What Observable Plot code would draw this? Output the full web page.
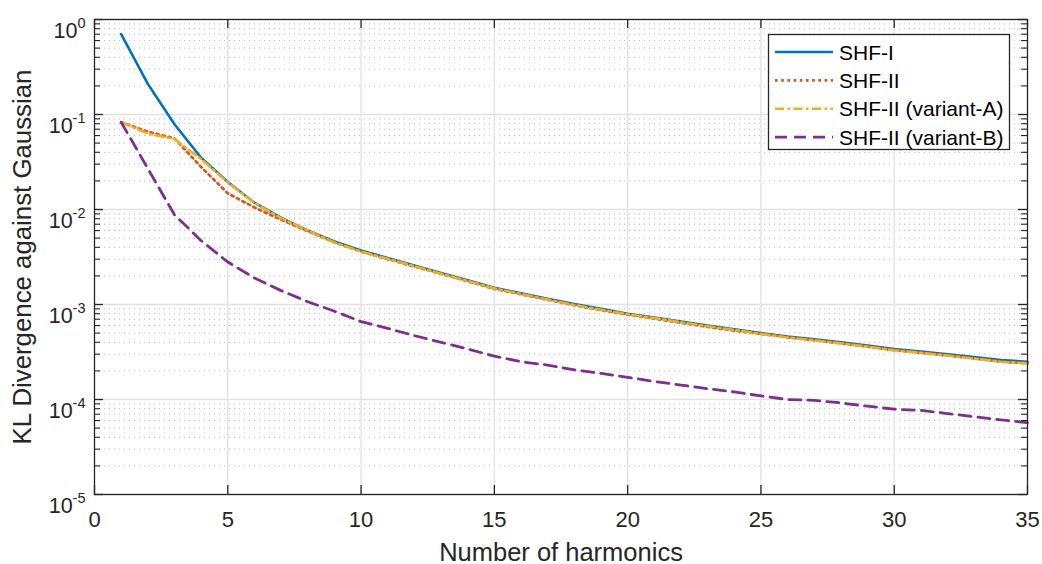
<!DOCTYPE html>
<html><head><meta charset="utf-8">
<script src="https://cdn.jsdelivr.net/npm/d3@7"></script>
<script src="https://cdn.jsdelivr.net/npm/@observablehq/plot@0.6"></script>
<style>
body{margin:0;background:#fff;}
#wrap{position:relative;width:1042px;height:564px;font-family:"Liberation Sans",Arial,Helvetica,sans-serif;}
#legend{position:absolute;left:0;top:0;}
</style></head><body><div id="wrap"></div>
<script>
// ---- data ----
const harmonics = [1,2,3,4,5,6,7,8,9,10,11,12,13,14,15,16,17,18,19,20,21,22,23,24,25,26,27,28,29,30,31,32,33,34,35];
const shf1 = [0.70,0.21,0.079,0.035,0.0195,0.0118,0.0082,0.0060,0.0046,0.0037,0.00309,0.00258,0.00215,0.0018,0.0015,0.00131,0.00115,0.00101,0.00090,0.00080,0.00073,0.00066,0.00060,0.00055,0.00050,0.00046,0.00043,0.00040,0.00037,0.00034,0.00032,0.00030,0.00028,0.00026,0.00025];
const shf2 = [0.083,0.066,0.056,0.028,0.0148,0.0105,0.0078,0.0059,0.0045,0.0036,0.0030,0.0025,0.0021,0.00175,0.00146,0.00128,0.00112,0.00098,0.00087,0.00078,0.00071,0.00064,0.00058,0.00053,0.00049,0.00045,0.00042,0.00039,0.00036,0.00033,0.00031,0.00029,0.00027,0.00025,0.00024];
const shf2A = [0.083,0.063,0.055,0.034,0.0193,0.0117,0.0081,0.0060,0.0045,0.0036,0.00303,0.00253,0.00211,0.00177,0.00148,0.00129,0.00113,0.00099,0.00088,0.00079,0.00072,0.00065,0.00059,0.00054,0.00049,0.00045,0.00042,0.00039,0.00036,0.00033,0.00031,0.00029,0.00027,0.00025,0.00024];
const shf2B = [0.083,0.027,0.0088,0.0047,0.0028,0.0019,0.0014,0.00107,0.00085,0.00066,0.00056,0.00047,0.00040,0.00034,0.000286,0.00025,0.00023,0.000205,0.000188,0.000171,0.000155,0.000142,0.00013,0.00012,0.000109,0.0001,0.000098,0.000092,0.000085,0.000079,0.000077,0.000071,0.000066,0.000061,0.000057];
const seriesNames = ["SHF-I","SHF-II","SHF-II (variant-A)","SHF-II (variant-B)"];
const seriesValues = [shf1, shf2, shf2A, shf2B];
const xTicks = [0,5,10,15,20,25,30,35];
const yDecades = [1e-5,1e-4,1e-3,1e-2,1e-1,1];
const yMinor = [];
for (const d of yDecades.slice(0,-1)) for (const m of [2,3,4,5,6,7,8,9]) yMinor.push(d*m);

// ---- styles ----
const colors = ["#0072BD","#D95319","#EDB120","#7E2F8E"];
const dashes = [null,"2.6,3.6","9,3.5,2.5,3.5","12,7"];
const widths = [2.6,2.6,2.6,2.8];
const W = 1042, H = 564, mL = 94, mR = 15, mT = 19, mB = 70;
const pw = W - mL - mR, ph = H - mT - mB;
const FONT = '"Liberation Sans", Arial, Helvetica, sans-serif';

const rows = seriesNames.map((name, i) => harmonics.map((x, j) => ({series: name, x, y: seriesValues[i][j]})));

const plot = Plot.plot({
  width: W, height: H,
  marginLeft: mL, marginRight: mR, marginTop: mT, marginBottom: mB,
  style: {fontFamily: FONT, fontSize: "22px", color: "#262626", background: "white"},
  x: {domain: [0, 35]},
  y: {type: "log", domain: [1e-5, 1]},
  marks: [
    Plot.ruleY(yMinor, {y: d => d, stroke: "#b8b8b8", strokeDasharray: "1,4", strokeWidth: 1}),
    Plot.ruleY(yDecades, {y: d => d, stroke: "#e2e2e2", strokeWidth: 1.4}),
    Plot.ruleX(xTicks.slice(1, -1), {x: d => d, stroke: "#e2e2e2", strokeWidth: 1.4}),
    ...rows.map((r, i) => Plot.line(r, {x: "x", y: "y", stroke: colors[i], strokeWidth: widths[i], strokeDasharray: dashes[i]})),
    Plot.frame({stroke: "#262626", strokeWidth: 1.3}),
    // inward ticks
    Plot.tickX(xTicks, {x: d => d, insetTop: ph - 9, stroke: "#262626", strokeWidth: 1.3}),
    Plot.tickX(xTicks, {x: d => d, insetBottom: ph - 9, stroke: "#262626", strokeWidth: 1.3}),
    Plot.tickY(yDecades, {y: d => d, insetRight: pw - 9, stroke: "#262626", strokeWidth: 1.3}),
    Plot.tickY(yDecades, {y: d => d, insetLeft: pw - 9, stroke: "#262626", strokeWidth: 1.3}),
    Plot.tickY(yMinor, {y: d => d, insetRight: pw - 6, stroke: "#262626", strokeWidth: 1.1}),
    Plot.tickY(yMinor, {y: d => d, insetLeft: pw - 6, stroke: "#262626", strokeWidth: 1.1}),
    Plot.axisX({ticks: xTicks, tickSize: 0, tickPadding: 17, fontSize: 22, tickFormat: d => String(d),
      label: "Number of harmonics", labelAnchor: "center", labelOffset: 66, labelArrow: "none"}),
    Plot.axisY({ticks: yDecades, tickSize: 0, tickPadding: 9, fontSize: 21.5, tickFormat: d => String(Math.round(Math.log10(d))),
      label: "KL Divergence against Gaussian", labelAnchor: "center", labelOffset: 82, labelArrow: "none"})
  ]
});

const svg = d3.select(plot);
// superscript exponents on y tick labels
svg.selectAll('g[aria-label="y-axis tick label"] text').each(function() {
  const t = d3.select(this);
  const e = t.text();
  t.text(null).attr("dy", "0.55em");
  t.append("tspan").text("10");
  t.append("tspan").attr("dy", -10.5).attr("font-size", "14.5px").text(e);
});
svg.selectAll('g[aria-label="x-axis label"] text').attr("font-size", "25.5px");
svg.selectAll('g[aria-label="y-axis label"] text').attr("font-size", "25.8px");

document.getElementById("wrap").appendChild(plot);

// ---- legend (overlay inside the axes) ----
const lg = d3.select("#wrap").append("svg").attr("id", "legend")
  .attr("width", W).attr("height", H).style("pointer-events", "none");
const bx = 768, by = 34, bw = 241, bh = 115, rowH = 28.4;
lg.append("rect").attr("x", bx + 0.5).attr("y", by + 0.5).attr("width", bw).attr("height", bh)
  .attr("fill", "white").attr("stroke", "#262626").attr("stroke-width", 1.3);
seriesNames.forEach((name, i) => {
  const cy = by + 18 + i * rowH;
  lg.append("line").attr("x1", bx + 7).attr("x2", bx + 65).attr("y1", cy).attr("y2", cy)
    .attr("stroke", colors[i]).attr("stroke-width", widths[i])
    .attr("stroke-dasharray", dashes[i]);
  lg.append("text").attr("x", bx + 71).attr("y", cy).attr("dy", "0.36em")
    .attr("font-family", FONT).attr("font-size", "21px").attr("fill", "#000").text(name);
});
</script>
</body></html>
